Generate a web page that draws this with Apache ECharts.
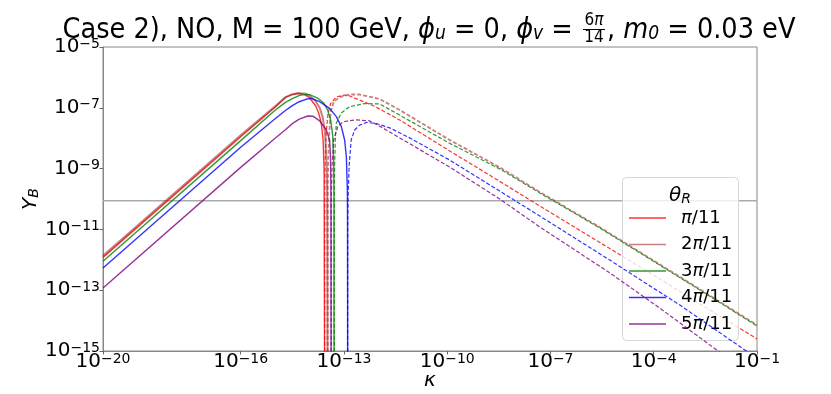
<!DOCTYPE html>
<html>
<head>
<meta charset="utf-8">
<script src="https://cdn.jsdelivr.net/npm/echarts@6/dist/echarts.min.js"></script>
<style>
  html, body { margin: 0; padding: 0; background: #fff; }
  #chart { width: 831px; height: 394px; }
</style>
</head>
<body>
<div id="chart"></div>
<script>
// Curves, as [log10(kappa), log10(|Y_B|)] pairs.
// "Solid" is the part before the sign change, "Dashed" the part after it.
const thetaLabels = ['π/11', '2π/11', '3π/11', '4π/11', '5π/11']
const xTickValues = [1e-20, 1e-16, 1e-13, 1e-10, 1e-7, 1e-4, 1e-1]
const yTickValues = [1e-15, 1e-13, 1e-11, 1e-9, 1e-7, 1e-5]
const yObserved = 8.7e-11

const pi1Solid = [[-20, -11.92], [-16, -7.95], [-15, -6.98], [-14.7, -6.66], [-14.5, -6.56], [-14.35, -6.52],
  [-14.15, -6.56], [-14.0, -6.67], [-13.82, -6.94], [-13.735, -7.17], [-13.66, -7.5], [-13.605, -8.06],
  [-13.576, -9.05], [-13.561, -17]]
const pi1Dashed = [[-13.561, -17], [-13.556, -9.4], [-13.54, -8.4], [-13.517, -7.85], [-13.465, -7.2],
  [-13.387, -6.86], [-13.22, -6.64], [-12.98, -6.58], [-12.834, -6.61], [-12.11, -6.95], [-11.381, -7.40],
  [-9.927, -8.42], [-8.474, -9.42], [-7.311, -10.23], [-5.567, -11.43], [-4.113, -12.43], [-2.66, -13.45], [-1, -14.6]]

const pi2Solid = [[-20, -11.87], [-16, -7.90], [-15, -6.95], [-14.7, -6.65], [-14.5, -6.56], [-14.3, -6.52],
  [-14.1, -6.54], [-13.997, -6.61], [-13.823, -6.78], [-13.706, -7.0], [-13.619, -7.3], [-13.547, -7.83],
  [-13.503, -8.88], [-13.488, -9.8], [-13.474, -17]]
const pi2Dashed = [[-13.474, -17], [-13.469, -9.6], [-13.455, -8.6], [-13.43, -7.9], [-13.387, -7.14],
  [-13.299, -6.81], [-13.125, -6.645], [-12.834, -6.563], [-12.544, -6.563], [-11.962, -6.711], [-11.381, -7.072],
  [-9.927, -8.059], [-8.474, -8.96], [-7.311, -9.77], [-5.567, -10.93], [-4.113, -11.95], [-2.66, -12.97], [-1, -14.15]]

const pi3Solid = [[-20, -12.05], [-16, -8.08], [-15, -7.08], [-14.7, -6.82], [-14.5, -6.70], [-14.288, -6.59],
  [-14.1, -6.56], [-13.997, -6.57], [-13.765, -6.68], [-13.59, -6.84], [-13.474, -7.07], [-13.387, -7.40],
  [-13.328, -7.9], [-13.299, -8.72], [-13.29, -9.8], [-13.285, -17]]
const pi3Dashed = [[-13.285, -17], [-13.28, -9.6], [-13.27, -8.88], [-13.25, -8.0], [-13.221, -7.5],
  [-13.076, -7.17], [-12.834, -6.96], [-12.398, -6.86], [-11.962, -6.875], [-11.381, -7.24], [-9.927, -8.17],
  [-8.474, -9.01], [-7.311, -9.80], [-5.567, -10.954], [-4.113, -11.974], [-2.66, -12.993], [-1, -14.178]]

const pi4Solid = [[-20, -12.27], [-16, -8.30], [-15, -7.36], [-14.7, -7.09], [-14.5, -6.93], [-14.3, -6.80],
  [-14.1, -6.72], [-13.95, -6.69], [-13.706, -6.80], [-13.416, -7.02], [-13.221, -7.29], [-13.076, -7.62],
  [-12.98, -8.06], [-12.93, -8.61], [-12.901, -9.70], [-12.896, -10.6], [-12.892, -17]]
const pi4Dashed = [[-12.892, -17], [-12.888, -10.6], [-12.878, -9.9], [-12.849, -8.9], [-12.791, -8.06],
  [-12.689, -7.73], [-12.544, -7.57], [-12.34, -7.48], [-12.049, -7.52], [-11.672, -7.66], [-11.09, -7.99],
  [-9.927, -8.72], [-8.474, -9.74], [-7.311, -10.56], [-5.276, -12.01], [-3.241, -13.49], [-1.439, -14.90], [-1, -15.23]]

const pi5Solid = [[-20, -12.93], [-16, -8.96], [-15, -8.0], [-14.7, -7.72], [-14.5, -7.52], [-14.3, -7.37],
  [-14.05, -7.27], [-13.89, -7.28], [-13.706, -7.43], [-13.512, -7.73], [-13.416, -8.06], [-13.39, -8.62],
  [-13.378, -9.8], [-13.372, -17]]
const pi5Dashed = [[-13.372, -17], [-13.368, -9.9], [-13.343, -8.88], [-13.299, -8.06], [-13.183, -7.63],
  [-13.038, -7.47], [-12.834, -7.42], [-12.631, -7.40], [-12.253, -7.43], [-11.875, -7.66], [-11.381, -7.99],
  [-9.927, -8.95], [-8.474, -10.0], [-7.311, -10.92], [-5.276, -12.43], [-3.823, -13.59], [-2.166, -14.97], [-1, -15.92]]

const FONT = 'DejaVu Sans'
const TITLE_FONT = "'DejaVu Sans Condensed', 'DejaVu Sans'"

const lineColors = ['rgba(255,0,0,0.8)', 'rgba(165,42,42,0.6)', 'rgba(0,128,0,0.8)', 'rgba(0,0,255,0.8)', 'rgba(128,0,128,0.8)']
const lineWidths = [1.4, 2, 1.4, 1.4, 1.4]
const solidData = [pi1Solid, pi2Solid, pi3Solid, pi4Solid, pi5Solid]
const dashedData = [pi1Dashed, pi2Dashed, pi3Dashed, pi4Dashed, pi5Dashed]

const toPoints = arr => arr.map(([lk, ly]) => [Math.pow(10, lk), Math.pow(10, ly)])

const powRich = {
  b: { fontSize: 20, fontFamily: FONT, color: '#000', lineHeight: 20, padding: [3, 0, 0, 0], verticalAlign: 'bottom' },
  s: { fontSize: 14, fontFamily: FONT, color: '#000', lineHeight: 14, verticalAlign: 'top' }
}
const powLabel = v => {
  const e = Math.round(Math.log10(v))
  return '{b|10}{s|' + (e < 0 ? '\u2212' + (-e) : e) + '}'
}

const series = [{
  type: 'line',
  silent: true,
  symbol: 'none',
  data: [[1e-20, yObserved], [1e-1, yObserved]],
  lineStyle: { color: '#aaaaaa', width: 1.5 },
  z: 1
}]
thetaLabels.forEach((name, i) => {
  const common = {
    name,
    type: 'line',
    symbol: 'none',
    smooth: false,
    clip: true,
    color: lineColors[i],
    z: 2 + i
  }
  series.push({ ...common, data: toPoints(solidData[i]), lineStyle: { color: lineColors[i], width: lineWidths[i] } })
  series.push({ ...common, data: toPoints(dashedData[i]), lineStyle: { color: lineColors[i], width: lineWidths[i] - 0.2, type: [4, 2] } })
})

const titleRich = {
  t: { fontSize: 28.5, fontFamily: TITLE_FONT, color: '#000', lineHeight: 28, padding: [0, 0, 7, 0], verticalAlign: 'top' },
  it: { fontSize: 28.5, fontFamily: TITLE_FONT, fontStyle: 'italic', color: '#000', lineHeight: 28, padding: [0, 0, 7, 0], verticalAlign: 'top' },
  sub: { fontSize: 19, fontFamily: TITLE_FONT, fontStyle: 'italic', color: '#000', lineHeight: 19, verticalAlign: 'bottom' }
}
const smallRich = {
  i: { fontSize: 20, fontFamily: FONT, fontStyle: 'italic', color: '#000', lineHeight: 20, padding: [0, 0, 5, 0], verticalAlign: 'top' },
  sub: { fontSize: 14, fontFamily: FONT, fontStyle: 'italic', color: '#000', lineHeight: 14, verticalAlign: 'bottom' }
}

const chart = echarts.init(document.getElementById('chart'), null, { renderer: 'canvas' })
chart.setOption({
  animation: false,
  backgroundColor: '#fff',
  grid: {
    left: 103, right: 74, top: 47, bottom: 43,
    outerBoundsMode: 'none', containLabel: false,
    show: true, borderColor: '#888', borderWidth: 1, backgroundColor: 'transparent'
  },
  xAxis: {
    type: 'log',
    logBase: 10,
    min: 1e-20,
    max: 1e-1,
    name: '{i|κ}',
    nameLocation: 'middle',
    nameGap: 20,
    nameMoveOverlap: false,
    nameTextStyle: { rich: smallRich },
    axisLine: { show: true, lineStyle: { color: '#888', width: 1 } },
    axisTick: { show: true, customValues: xTickValues, length: 3.5, lineStyle: { color: '#666' } },
    axisLabel: { customValues: xTickValues, formatter: powLabel, rich: powRich, margin: 1 },
    splitLine: { show: false },
    minorTick: { show: false }
  },
  yAxis: {
    type: 'log',
    logBase: 10,
    min: 1e-15,
    max: 1e-5,
    name: '{i|Y}{sub|B}',
    nameLocation: 'middle',
    nameRotate: 90,
    nameGap: 62,
    nameMoveOverlap: false,
    nameTextStyle: { rich: smallRich },
    axisLine: { show: true, lineStyle: { color: '#888', width: 1 } },
    axisTick: { show: true, customValues: yTickValues, length: 3.5, lineStyle: { color: '#666' } },
    axisLabel: { customValues: yTickValues, formatter: powLabel, rich: powRich, margin: 3 },
    splitLine: { show: false },
    minorTick: { show: false }
  },
  legend: {
    data: thetaLabels.map((n, i) => ({ name: n, itemStyle: { color: lineColors[i] } })),
    orient: 'vertical',
    left: 629,
    top: 208,
    padding: 0,
    itemGap: 6.5,
    itemWidth: 37,
    itemHeight: 1.6,
    icon: 'rect',
    selectedMode: false,
    formatter: n => n.replace('π', '{p|π}'),
    textStyle: {
      fontSize: 18, fontFamily: FONT, color: '#000', lineHeight: 20, padding: [0, 0, 0, 10],
      rich: { p: { fontSize: 18, fontFamily: FONT, fontStyle: 'italic', color: '#000', lineHeight: 20 } }
    }
  },
  graphic: [
    {
      type: 'rect', z: 3,
      shape: { x: 622.5, y: 177.5, width: 116, height: 163, r: 4 },
      style: { fill: 'rgba(255,255,255,0.8)', stroke: '#d6d6d6', lineWidth: 1 }
    },
    {
      type: 'text', z: 5, x: 680, y: 196,
      style: { text: '{i|θ}{sub|R}', align: 'center', verticalAlign: 'middle', rich: smallRich }
    },
    {
      type: 'text', z: 5, x: 581, y: 30,
      style: {
        text: '{t|Case 2), NO, M = 100 GeV, }{it|ϕ}{sub|u}{t| = 0, }{it|ϕ}{sub|v}{t| = }',
        align: 'right', verticalAlign: 'middle', rich: titleRich
      }
    },
    {
      type: 'text', z: 5, x: 594, y: 21,
      style: {
        text: '{n|6}{p|π}', align: 'center', verticalAlign: 'middle',
        rich: {
          n: { fontSize: 17, fontFamily: TITLE_FONT, color: '#000' },
          p: { fontSize: 17, fontFamily: TITLE_FONT, fontStyle: 'italic', color: '#000' }
        }
      }
    },
    { type: 'line', z: 5, shape: { x1: 583, y1: 29.5, x2: 605, y2: 29.5 }, style: { stroke: '#000', lineWidth: 1 } },
    {
      type: 'text', z: 5, x: 594, y: 38,
      style: { text: '14', align: 'center', verticalAlign: 'middle', fontSize: 17, fontFamily: TITLE_FONT, fill: '#000' }
    },
    {
      type: 'text', z: 5, x: 607, y: 30,
      style: {
        text: '{t|, }{it|m}{sub|0}{t| = 0.03 eV}',
        align: 'left', verticalAlign: 'middle', rich: titleRich
      }
    }
  ],
  series
})
</script>
</body>
</html>
